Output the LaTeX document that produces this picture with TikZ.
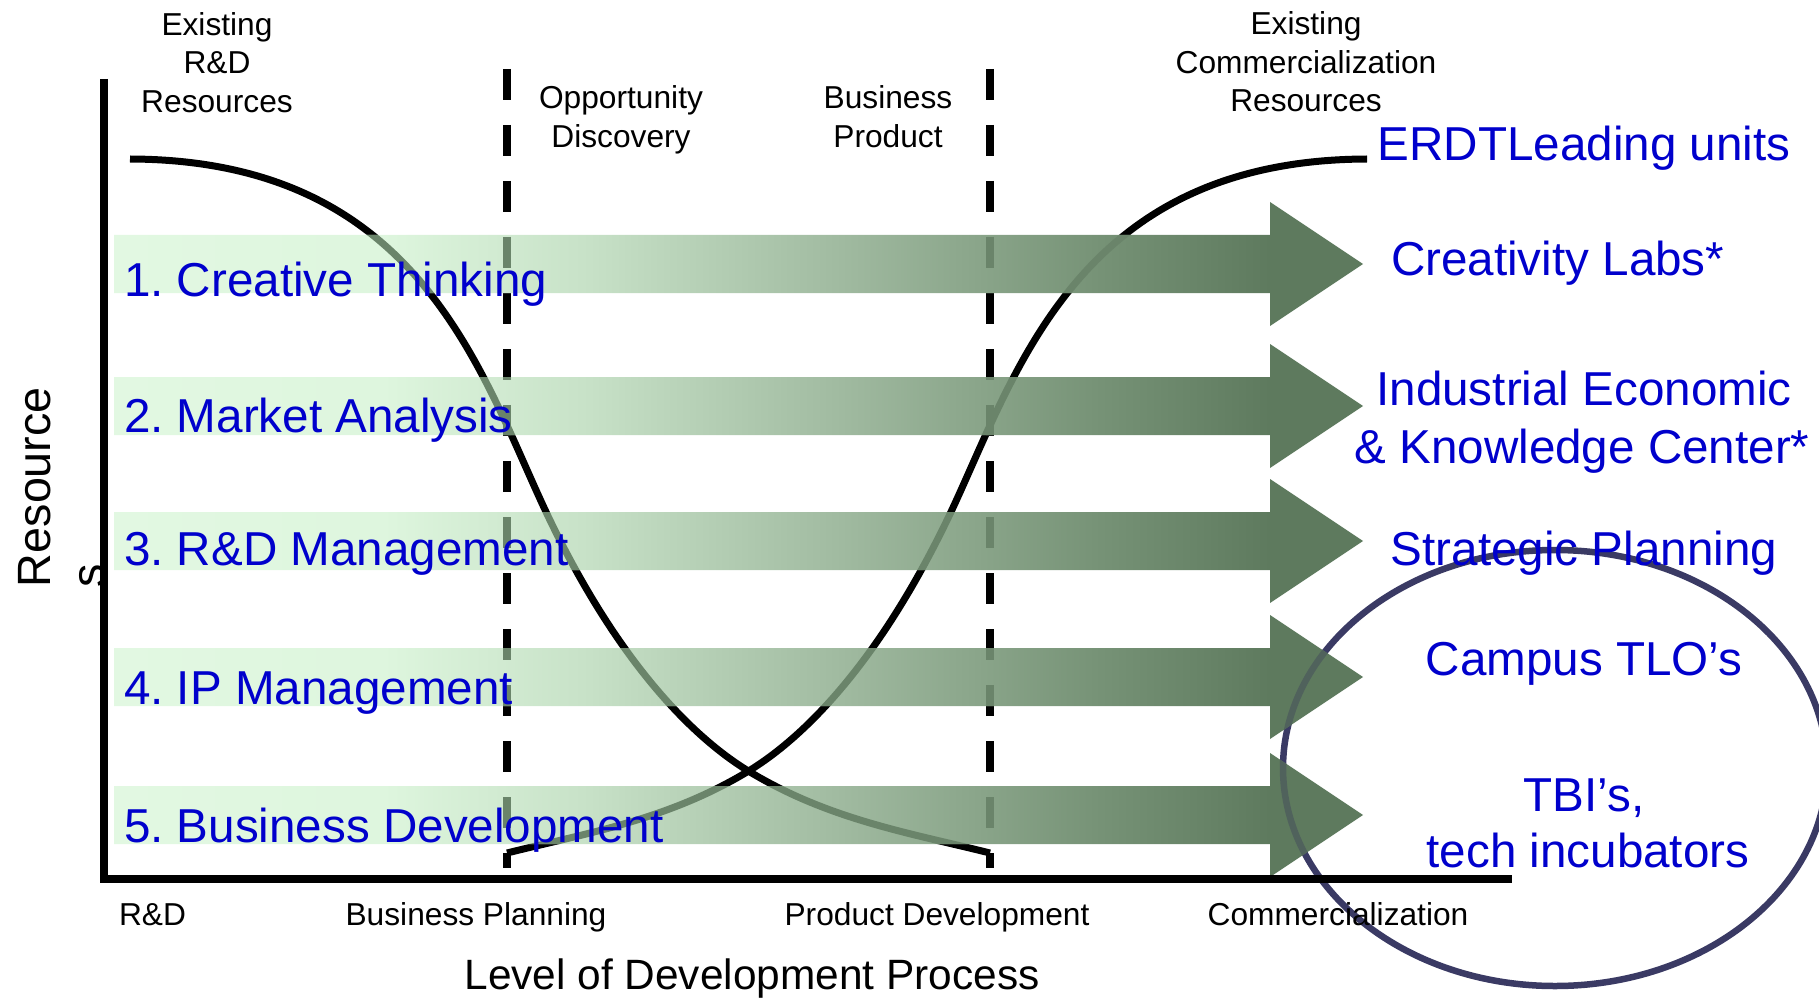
\documentclass[tikz,border=0pt]{standalone}
\usepackage{fontspec}
\setmainfont{Liberation Sans}
\frenchspacing
\definecolor{txtblue}{RGB}{0,0,204}
\definecolor{circnavy}{RGB}{58,58,100}
\definecolor{ingreen}{RGB}{106,132,106}
\definecolor{inheadnavy}{RGB}{80,98,92}
\definecolor{bs0}{RGB}{226,248,226}
\definecolor{bs1}{RGB}{222,246,222}
\definecolor{bs2}{RGB}{200,226,200}
\definecolor{bs3}{RGB}{160,186,160}
\definecolor{bs4}{RGB}{118,146,118}
\definecolor{bs5}{RGB}{94,122,94}
\pgfdeclarehorizontalshading{bandshade}{100bp}{color(0bp)=(bs0); color(25bp)=(bs0); color(35.77bp)=(bs1); color(43.75bp)=(bs2); color(54.13bp)=(bs3); color(64.5bp)=(bs4); color(71.29bp)=(bs5); color(75bp)=(bs5); color(100bp)=(bs5)}
\newcommand\bandshape[1]{(114,#1-29) -- (1270,#1-29) -- (1270,#1-62) -- (1363,#1) -- (1270,#1+62) -- (1270,#1+29) -- (114,#1+29) -- cycle}
\newcommand\curveone{(130,159) .. controls (420,160) and (480,372) .. (547,514) .. controls (622,671.5) and (700,742) .. (750,772) .. controls (830,820) and (910,833) .. (990,853)}
\newcommand\curvetwo{(507,853) .. controls (587,833) and (667,820) .. (747,772) .. controls (797,742) and (875,671.5) .. (950,514) .. controls (1017,372) and (1077,160) .. (1367,159)}
\newcommand\dashone{(507,69) -- (507,868)}
\newcommand\dashtwo{(990,69) -- (990,868)}
\newcommand\ovalpath{(1555,768) ellipse [x radius=272pt, y radius=218pt]}
\tikzset{
  lbl/.style={font=\fontsize{31.7pt}{38pt}\selectfont, text=black, inner sep=0pt, outer sep=0pt},
  blu/.style={font=\fontsize{47.6pt}{57pt}\selectfont, text=txtblue, inner sep=0pt, outer sep=0pt},
  biglbl/.style={font=\fontsize{42.4pt}{50pt}\selectfont, text=black, inner sep=0pt, outer sep=0pt},
  ylbl/.style={font=\fontsize{46.7pt}{54pt}\selectfont, text=black, inner sep=0pt, outer sep=0pt},
  curveline/.style={line width=7pt},
  dashline/.style={line width=7.5pt, dash pattern=on 31pt off 25pt},
  axisline/.style={line width=7.5pt, black},
  ovalline/.style={line width=6.5pt},
  bandfill/.style={shading=bandshade, shading angle=0},
}
\begin{document}
\begin{tikzpicture}[x=1pt, y=-1pt]
\useasboundingbox (0,0) rectangle (1819,1000);
% ellipse
\draw[ovalline, circnavy] \ovalpath;
% curves and dashed separators
\draw[curveline, black] \curveone;
\draw[curveline, black] \curvetwo;
\draw[dashline, black] \dashone;
\draw[dashline, black] \dashtwo;
% bands
\shade[bandfill] \bandshape{264};
\shade[bandfill] \bandshape{406};
\shade[bandfill] \bandshape{541};
\shade[bandfill] \bandshape{677};
\shade[bandfill] \bandshape{815};
% lines seen through the bands
\begin{scope}
  \clip \bandshape{264} \bandshape{406} \bandshape{541} \bandshape{677} \bandshape{815};
  \draw[curveline, ingreen] \curveone;
  \draw[curveline, ingreen] \curvetwo;
  \draw[dashline, ingreen] \dashone;
  \draw[dashline, ingreen] \dashtwo;
  \draw[ovalline, inheadnavy] \ovalpath;
\end{scope}
% axes
\draw[axisline] (104,79) -- (104,883);
\draw[axisline] (100,879) -- (1512,879);
% top labels
\node[lbl, anchor=base] (t1a) at (217,35.5) {Existing};
\node[lbl, anchor=base] (t1b) at (217,73.5) {R\&D};
\node[lbl, anchor=base] (t1c) at (217,112.5) {Resources};
\node[lbl, anchor=base] (t2a) at (621,108.5) {Opportunity};
\node[lbl, anchor=base] (t2b) at (621,147.5) {Discovery};
\node[lbl, anchor=base] (t3a) at (888,108.5) {Business};
\node[lbl, anchor=base] (t3b) at (888,147.5) {Product};
\node[lbl, anchor=base] (t4a) at (1306,34.5) {Existing};
\node[lbl, anchor=base] (t4b) at (1306,73.5) {Commercialization};
\node[lbl, anchor=base] (t4c) at (1306,111.5) {Resources};
% axis labels
\node[lbl, anchor=base west] (x1) at (119,925) {R\&D};
\node[lbl, anchor=base] (x2) at (476,925) {Business Planning};
\node[lbl, anchor=base] (x3) at (937,925) {Product Development};
\node[lbl, anchor=base] (x4) at (1338,925) {Commercialization};
\node[biglbl, anchor=base] (xl) at (752,989) {Level of Development Process};
\node[ylbl, rotate=90, anchor=base west] (yl) at (50,587) {Resource};
\node[ylbl, rotate=90, anchor=base west] (yl2) at (104,587) {s};
% y axis again over the wrapped s
\draw[axisline] (104,560) -- (104,600);
% blue band labels
\node[blu, anchor=base west] (r1) at (124,296) {1. Creative Thinking};
\node[blu, anchor=base west] (r2) at (124,432) {2. Market Analysis};
\node[blu, anchor=base west] (r3) at (124,565) {3. R\&D Management};
\node[blu, anchor=base west] (r4) at (124,704) {4. IP Management};
\node[blu, anchor=base west] (r5) at (124,842) {5. Business Development};
% right labels
\node[blu, anchor=base] (e1) at (1584,161) {ERDTLeading units};
\node[blu, anchor=base west] (e2) at (1391,275) {Creativity Labs*};
\node[blu, anchor=base] (e3a) at (1584,405) {Industrial Economic};
\node[blu, anchor=base] (e3b) at (1582,463) {\& Knowledge Center*};
\node[blu, anchor=base] (e4) at (1584,565) {Strategic Planning};
\node[blu, anchor=base] (e5) at (1584,675) {Campus TLO’s};
\node[blu, anchor=base] (e6a) at (1584,811) {TBI’s,};
\node[blu, anchor=base] (e6b) at (1588,867) {tech incubators};
\end{tikzpicture}
\end{document}
